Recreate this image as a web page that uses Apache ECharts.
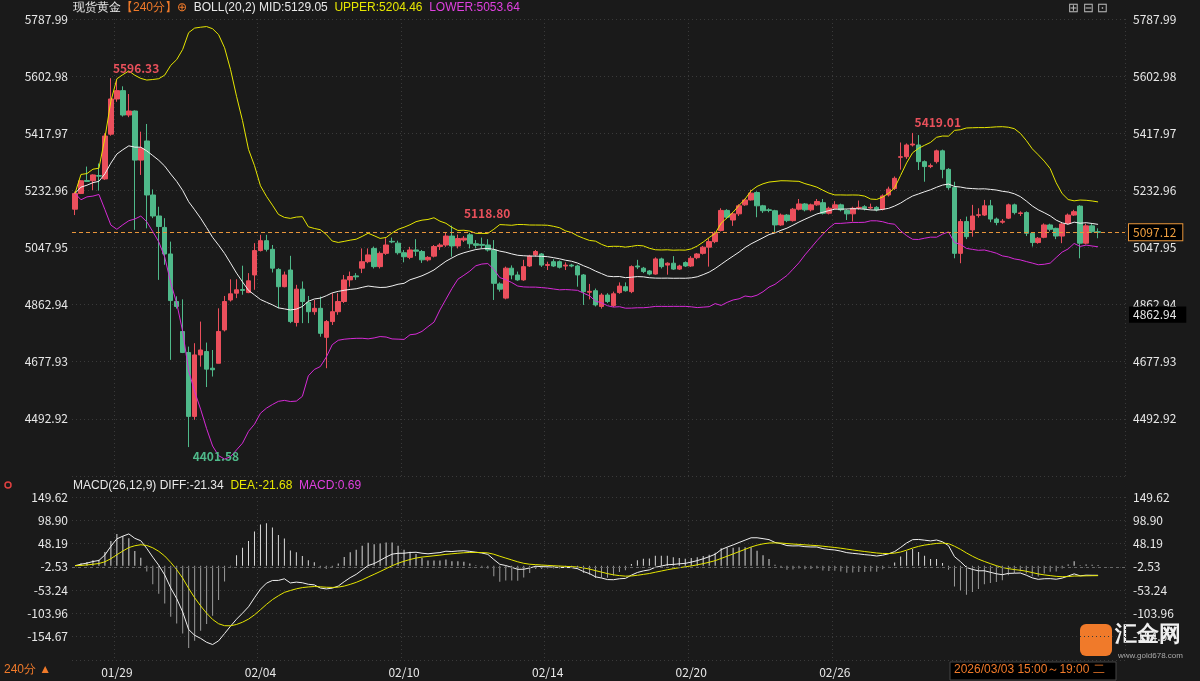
<!DOCTYPE html>
<html>
<head>
<meta charset="utf-8">
<script src="https://cdn.jsdelivr.net/npm/echarts@6/dist/echarts.min.js"></script>
<style>
html,body{margin:0;padding:0;background:#1a1a1a;}
#main{width:1200px;height:681px;}
</style>
</head>
<body>
<div id="main"></div>
<script>
// 4小时K线 [开, 收, 低, 高]
var candles = [
[5172,5223,5153,5229],[5223,5264,5221,5266],[5265,5262,5260,5310],[5264,5283,5234,5285],[5281,5279,5232,5320],
[5270,5409,5267,5418],[5415,5529,5410,5596.33],[5529,5556,5520,5590],[5556,5477,5472,5570],[5477,5490,5470,5545],
[5490,5331,5105,5492],[5331,5369,5283,5423],[5393,5218,5110,5448],[5218,5150,5143,5236],[5150,5116,4943,5180],
[5113,5027,4992,5143],[5027,4876,4684,5067],[4873,4857,4850,4890],[4776,4708,4706,4880],[4708,4501,4401.58,4727],
[4501,4700,4490,4738],[4700,4716,4662,4808],[4711,4654,4596,4740],[4657,4652,4630,4716],[4673,4776,4673,4851],
[4781,4873,4776,4891],[4878,4898,4873,4945],[4900,4911,4884,4945],[4912,4909,4895,4989],[4902,4940,4900,4965],
[4959,5038,4911,5062],[5038,5070,5035,5089],[5070,5042,5035,5089],[5042,4981,4967,5056],[4977,4921,4851,4981],
[4921,4959,4919,4970],[4975,4808,4803,5021],[4805,4913,4792,4927],[4913,4873,4803,4938],[4870,4840,4803,4891],
[4840,4851,4830,4878],[4851,4770,4759,4889],[4757,4808,4657,4813],[4808,4840,4797,4900],[4840,4873,4830,4900],
[4873,4943,4868,4959],[4943,4954,4921,4970],[4956,4953,4943,4965],[4981,5002,4965,5045],[5002,5024,4997,5045],
[5045,4986,4980,5051],[4986,5029,4980,5035],[5029,5056,5024,5078],[5068,5066,5062,5080],[5062,5031,5025,5070],
[5031,5018,5000,5040],[5016,5040,5010,5050],[5040,5036,5020,5075],[5035,5008,4998,5040],[5008,5016,5003,5020],
[5020,5051,5016,5056],[5051,5056,5040,5062],[5056,5085,5050,5095],[5085,5053,5018,5118.80],[5053,5077,5045,5090],
[5072,5078,5066,5085],[5089,5060,5045,5095],[5060,5055,5045,5072],[5058,5055,5045,5080],[5056,5040,5035,5075],
[5040,4932,4878,5072],[4930,4913,4905,4935],[4884,4981,4880,4986],[4981,4959,4945,4990],[4959,4943,4940,4970],
[4943,4986,4940,5008],[4988,5020,4985,5024],[5024,5035,5018,5040],[5027,4991,4985,5030],[4990,4993,4975,5002],
[5002,4988,4985,5010],[5002,4984,4980,5006],[4988,4991,4975,5000],[4991,4988,4984,4995],[4988,4959,4921,4992],
[4959,4905,4862,4962],[4903,4906,4880,4930],[4908,4862,4857,4915],[4857,4894,4850,4900],[4894,4873,4868,4900],
[4860,4898,4855,4905],[4902,4923,4898,4935],[4921,4908,4905,4935],[4905,4986,4900,4990],[4988,4985,4978,5008],
[4981,4970,4965,4985],[4972,4962,4958,4975],[4962,5011,4960,5016],[5011,4986,4980,5015],[4991,4997,4960,5000],
[4997,4978,4975,5020],[4978,4988,4975,4992],[4999,4988,4985,5003],[4988,5013,4985,5020],[5015,5027,5010,5030],
[5029,5049,5025,5053],[5049,5067,4986,5078],[5067,5094,5062,5100],[5103,5168,5100,5175],[5168,5146,5140,5172],
[5137,5157,5118,5162],[5157,5183,5150,5188],[5186,5202,5183,5206],[5202,5224,5200,5235],[5226,5183,5146,5230],
[5183,5167,5160,5186],[5170,5168,5162,5175],[5167,5121,5096,5170],[5121,5153,5118,5158],[5153,5135,5130,5156],
[5135,5172,5132,5176],[5172,5189,5168,5205],[5189,5170,5165,5192],[5170,5186,5165,5190],[5186,5197,5183,5205],
[5193,5159,5155,5205],[5159,5175,5155,5180],[5175,5186,5172,5198],[5186,5170,5165,5190],[5168,5157,5137,5172],
[5157,5175,5132,5180],[5176,5178,5170,5200],[5180,5174,5168,5185],[5176,5178,5172,5190],[5178,5170,5165,5182],
[5172,5215,5168,5220],[5218,5237,5213,5245],[5239,5272,5234,5278],[5340,5342,5300,5388],[5342,5380,5335,5385],
[5380,5383,5375,5419.01],[5380,5326,5299,5412],[5326,5310,5261,5330],[5310,5313,5305,5320],[5326,5361,5320,5365],
[5361,5301,5272,5365],[5301,5242,5235,5305],[5242,5029,5013,5261],[5029,5132,4997,5140],[5132,5083,5075,5148],
[5105,5150,5083,5186],[5152,5154,5145,5175],[5153,5183,5150,5202],[5183,5140,5130,5202],[5140,5129,5120,5145],
[5130,5133,5125,5140],[5143,5186,5140,5190],[5186,5161,5155,5190],[5158,5160,5150,5165],[5161,5094,5085,5165],
[5094,5064,5051,5098],[5064,5078,5060,5082],[5081,5121,5078,5126],[5121,5107,5100,5125],[5110,5085,5075,5112],
[5085,5124,5062,5128],[5126,5153,5122,5158],[5153,5164,5150,5170],[5182,5062,5013,5185],[5062,5118,5058,5125],
[5118,5099,5095,5125],[5099,5097.12,5078,5110]
];
var padCount = 4;   // 右侧留空
var tickIdx = [7, 31, 55, 79, 103, 127];
var tickText = ['01/29', '02/04', '02/10', '02/14', '02/20', '02/26'];
var priceTicks = [4307.91, 185.01, 5787.99];   // min, interval, max
var macdTicks = [-205.385, 50.715, 149.62];
var macdLabels = ['-205.39', '-154.67', '-103.96', '-53.24', '-2.53', '48.19', '98.90', '149.62'];
var lastPrice = 5097.12;

var UP = '#eb4f5c', DOWN = '#4fb98a';
var total = candles.length + padCount;
var cats = [];
for (var i = 0; i < total; i++) {
    var k = tickIdx.indexOf(i);
    cats.push(k >= 0 ? tickText[k] : String(i));
}
var closes = candles.map(function (c) { return c[1]; });

// BOLL(20,2)
var mid = [], upper = [], lower = [];
for (var i = 0; i < closes.length; i++) {
    var s = Math.max(0, i - 19), win = closes.slice(s, i + 1);
    var m = win.reduce(function (a, b) { return a + b; }, 0) / win.length;
    var v = win.reduce(function (a, b) { return a + (b - m) * (b - m); }, 0) / win.length;
    mid.push(+m.toFixed(2));
    upper.push(+(m + 2 * Math.sqrt(v)).toFixed(2));
    lower.push(+(m - 2 * Math.sqrt(v)).toFixed(2));
}
// MACD(26,12,9)
function ema(arr, n) {
    var out = [arr[0]];
    for (var i = 1; i < arr.length; i++) out.push(out[i - 1] + 2 / (n + 1) * (arr[i] - out[i - 1]));
    return out;
}
var e12 = ema(closes, 12), e26 = ema(closes, 26);
var diff = e12.map(function (v, i) { return v - e26[i]; });
var dea = ema(diff, 9);
var hist = diff.map(function (v, i) {
    var h = 2 * (v - dea[i]);
    return { value: h, itemStyle: { color: h >= 0 ? '#d8d8d8' : '#9a9a9a' } };
});

function tickShow(idx) { return tickIdx.indexOf(idx) >= 0; }
function macdFmt(v) {
    var n = Math.round((v - macdTicks[0]) / macdTicks[1]);
    return macdLabels[n] || v.toFixed(2);
}
var gridLine = { show: true, lineStyle: { color: '#3a3a3a', type: [1, 3] } };

var myChart = echarts.init(document.getElementById('main'));
var option = {
    backgroundColor: '#1a1a1a',
    animation: false,
    textStyle: { fontFamily: 'Noto Sans CJK SC, Noto Sans, sans-serif' },
    grid: [
        { left: 72, right: 75, top: 19, bottom: 681 - 476 },
        { left: 72, right: 75, top: 497, bottom: 21 }
    ],
    xAxis: [
        { type: 'category', gridIndex: 0, data: cats, boundaryGap: true,
          axisLine: { show: false }, axisTick: { show: false }, axisLabel: { show: false },
          splitLine: { show: true, interval: tickShow, lineStyle: { color: '#3a3a3a', type: [1, 3] } } },
        { type: 'category', gridIndex: 1, data: cats, boundaryGap: true,
          axisLine: { show: false }, axisTick: { show: false },
          axisLabel: { interval: tickShow, color: '#e8e8e8', fontSize: 12, margin: 6 },
          splitLine: { show: true, interval: tickShow, lineStyle: { color: '#3a3a3a', type: [1, 3] } } }
    ],
    yAxis: [
        { type: 'value', gridIndex: 0, position: 'left', min: priceTicks[0], interval: priceTicks[1], max: priceTicks[2],
          axisLine: { show: false }, axisTick: { show: false }, splitLine: gridLine,
          axisLabel: { showMinLabel: false, color: '#e8e8e8', fontSize: 12, margin: 4, formatter: function (v) { return v.toFixed(2); } } },
        { type: 'value', gridIndex: 0, position: 'right', min: priceTicks[0], interval: priceTicks[1], max: priceTicks[2],
          axisLine: { show: false }, axisTick: { show: false }, splitLine: { show: false },
          axisLabel: { showMinLabel: false, color: '#e8e8e8', fontSize: 12, margin: 8, formatter: function (v) { return v.toFixed(2); } } },
        { type: 'value', gridIndex: 1, position: 'left', min: macdTicks[0], interval: macdTicks[1], max: macdTicks[2],
          axisLine: { show: false }, axisTick: { show: false }, splitLine: gridLine,
          axisLabel: { showMinLabel: false, color: '#e8e8e8', fontSize: 12, margin: 4, formatter: macdFmt } },
        { type: 'value', gridIndex: 1, position: 'right', min: macdTicks[0], interval: macdTicks[1], max: macdTicks[2],
          axisLine: { show: false }, axisTick: { show: false }, splitLine: { show: false },
          axisLabel: { showMinLabel: false, color: '#e8e8e8', fontSize: 12, margin: 8, formatter: macdFmt } }
    ],
    series: [
        { type: 'candlestick', xAxisIndex: 0, yAxisIndex: 0, data: candles, barWidth: 5,
          itemStyle: { color: UP, color0: DOWN, borderColor: UP, borderColor0: DOWN, borderWidth: 1 },
          markPoint: {
              symbol: 'circle', symbolSize: 2,
              itemStyle: { color: 'rgba(0,0,0,0)' },
              data: [
                  { coord: [6, 5596.33], label: { formatter: '5596.33', color: '#e8505b', position: 'right', offset: [-4, -10] } },
                  { coord: [19, 4401.58], label: { formatter: '4401.58', color: '#4fb98a', position: 'right', offset: [-2, 9] } },
                  { coord: [63, 5118.80], label: { formatter: '5118.80', color: '#e8505b', position: 'right', offset: [6, -12] } },
                  { coord: [140, 5419.01], label: { formatter: '5419.01', color: '#e8505b', position: 'right', offset: [-4, -10] } }
              ],
              label: { show: true, fontSize: 12, fontWeight: 'bold' }
          },
          markLine: {
              symbol: 'none', silent: true,
              data: [
                  { yAxis: lastPrice, lineStyle: { color: '#e8953a', type: [4, 3], width: 1 },
                    label: { position: 'end', formatter: '5097.12', color: '#f0a040', backgroundColor: '#000', borderColor: '#e8953a', borderWidth: 1, padding: [2, 6, 2, 4], fontSize: 12, distance: 4 } },
                  { yAxis: 4862.94, lineStyle: { color: 'rgba(0,0,0,0)' },
                    label: { position: 'end', formatter: '4862.94', color: '#e8e8e8', backgroundColor: '#000', padding: [2, 10, 2, 4], fontSize: 12, distance: 4, offset: [0, 10] } }
              ]
          }
        },
        { type: 'line', xAxisIndex: 0, yAxisIndex: 0, data: mid, showSymbol: false, lineStyle: { color: '#f0f0f0', width: 1 } },
        { type: 'line', xAxisIndex: 0, yAxisIndex: 0, data: upper, showSymbol: false, lineStyle: { color: '#e6e600', width: 1 } },
        { type: 'line', xAxisIndex: 0, yAxisIndex: 0, data: lower, showSymbol: false, lineStyle: { color: '#d62ad6', width: 1 } },
        { type: 'bar', xAxisIndex: 1, yAxisIndex: 2, data: hist, barWidth: 1,
          markLine: { symbol: 'none', silent: true, label: { show: false },
                      data: [{ yAxis: -2.53, lineStyle: { color: '#666', type: [3, 3], width: 1 } }] } },
        { type: 'line', xAxisIndex: 1, yAxisIndex: 2, data: diff, showSymbol: false, lineStyle: { color: '#f0f0f0', width: 1 } },
        { type: 'line', xAxisIndex: 1, yAxisIndex: 2, data: dea, showSymbol: false, lineStyle: { color: '#e6e600', width: 1 } }
    ],
    graphic: [
        { type: 'text', left: 73, top: 2, style: { text: '{w|现货黄金}{o|【240分】}{o|⊕}  {w|BOLL(20,2) MID:5129.05}  {y|UPPER:5204.46}  {m|LOWER:5053.64}',
          rich: { w: { fill: '#e8e8e8', fontSize: 12 }, o: { fill: '#f07a2a', fontSize: 12 }, y: { fill: '#e6e600', fontSize: 12 }, m: { fill: '#e040e0', fontSize: 12 } } } },
        { type: 'text', left: 73, top: 480, style: { text: '{w|MACD(26,12,9) DIFF:-21.34}  {y|DEA:-21.68}  {m|MACD:0.69}',
          rich: { w: { fill: '#e8e8e8', fontSize: 12 }, y: { fill: '#e6e600', fontSize: 12 }, m: { fill: '#e040e0', fontSize: 12 } } } },
        { type: 'circle', shape: { cx: 8, cy: 485, r: 3 }, style: { fill: 'none', stroke: '#e04040', lineWidth: 1.5 } },
        { type: 'text', left: 4, top: 664, style: { text: '240分 ▲', fill: '#f07a2a', fontSize: 12 } },
        { type: 'rect', shape: { x: 950, y: 662, width: 166, height: 18 }, style: { fill: '#000', stroke: '#444' } },
        { type: 'text', left: 954, top: 664, style: { text: '2026/03/03 15:00～19:00 二', fill: '#f07a2a', fontSize: 12 } },
        { type: 'rect', shape: { x: 1080, y: 624, width: 32, height: 32, r: 6 }, style: { fill: '#f07a2a' } },
        { type: 'text', left: 1115, top: 624, style: { text: '汇金网', fill: '#f0f0f0', fontSize: 22, fontWeight: 'bold' } },
        { type: 'text', left: 1118, top: 652, style: { text: 'www.gold678.com', fill: '#aaa', fontSize: 8 } },
        { type: 'text', left: 1068, top: 2, style: { text: '⊞ ⊟ ⊡', fill: '#bbb', fontSize: 13 } }
    ]
};
myChart.setOption(option);
</script>
</body>
</html>
